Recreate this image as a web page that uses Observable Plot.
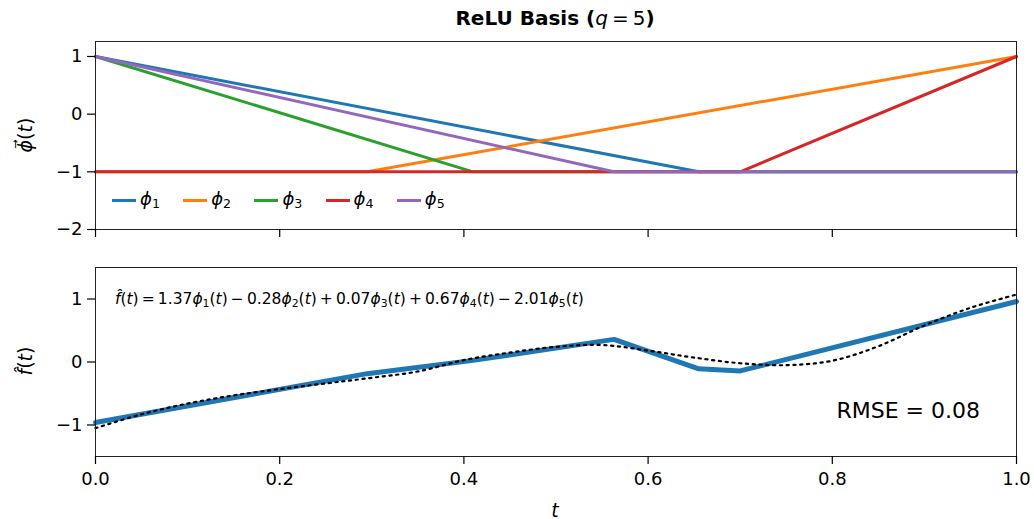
<!DOCTYPE html>
<html><head><meta charset="utf-8">
<script src="https://cdn.jsdelivr.net/npm/d3@7"></script>
<script src="https://cdn.jsdelivr.net/npm/@observablehq/plot@0.6"></script>
<style>
body{margin:0;background:#fff;font-family:"DejaVu Sans",sans-serif;}
#wrap{position:relative;width:1034px;height:519px;overflow:hidden;background:#fff}
.abs{position:absolute;white-space:nowrap;color:#000;line-height:1}
.abs svg{display:block}
i{font-style:italic}
sub{font-size:0.7em;vertical-align:-0.25em;line-height:0}
.op{margin:0 0.2em}
</style></head><body><div id="wrap"></div>
<script>
// ---- data ----
const basisNames = ["ϕ1", "ϕ2", "ϕ3", "ϕ4", "ϕ5"];
const basisColors = ["#1f77b4", "#ff7f0e", "#2ca02c", "#d62728", "#9467bd"];
const phi1T = [0, 0.655, 1];   const phi1V = [1, -1, -1];
const phi2T = [0, 0.295, 1];   const phi2V = [-1, -1, 1];
const phi3T = [0, 0.41, 1];    const phi3V = [1, -1, -1];
const phi4T = [0, 0.70, 1];    const phi4V = [-1, -1, 1];
const phi5T = [0, 0.563, 1];   const phi5V = [1, -1, -1];
const fitT = [0, 0.295, 0.41, 0.563, 0.655, 0.70, 1];
const fitV = [-0.96, -0.185, 0.026, 0.359, -0.108, -0.142, 0.96];
const trueT = [0, 0.05, 0.1, 0.15, 0.2, 0.25, 0.3, 0.35, 0.4, 0.45, 0.5, 0.55, 0.6, 0.65, 0.7, 0.75, 0.8, 0.85, 0.9, 0.95, 1];
const trueV = [-1.05, -0.83, -0.66, -0.53, -0.43, -0.34, -0.25, -0.15, 0.03, 0.15, 0.24, 0.27, 0.18, 0.07, -0.02, -0.05, 0.02, 0.25, 0.58, 0.86, 1.07];
const coefs = [1.37, -0.28, 0.07, 0.67, -2.01];
const rmse = 0.08;
const xTicks = [0, 0.2, 0.4, 0.6, 0.8, 1.0];
const yTicksTop = [-2, -1, 0, 1];
const yTicksBottom = [-1, 0, 1];

// ---- build tables ----
const basisT = [phi1T, phi2T, phi3T, phi4T, phi5T];
const basisV = [phi1V, phi2V, phi3V, phi4V, phi5V];
const basisRows = basisNames.flatMap((n, i) => basisT[i].map((t, j) => ({name: n, t, v: basisV[i][j]})));
const fitRows = fitT.map((t, i) => ({t, v: fitV[i]}));
const trueRows = trueT.map((t, i) => ({t, v: trueV[i]}));

const minus = d => (d < 0 ? "\u2212" + Math.abs(d) : String(d));
const style = {fontSize: "18px", fontFamily: "DejaVu Sans", color: "#000", background: "transparent", overflow: "visible"};

const wrap = document.getElementById("wrap");
function place(el, left, topPx) {
  const d = document.createElement("div");
  d.className = "abs"; d.style.left = left + "px"; d.style.top = topPx + "px";
  if (typeof el === "string") d.innerHTML = el; else d.appendChild(el);
  wrap.appendChild(d); return d;
}

const topPlot = Plot.plot({
  width: 1034, height: 240, marginTop: 41, marginBottom: 11, marginLeft: 95, marginRight: 18,
  style,
  x: {domain: [0, 1]},
  y: {domain: [-2, 1.26]},
  color: {domain: basisNames, range: basisColors},
  marks: [
    Plot.line(basisRows, {x: "t", y: "v", z: "name", stroke: "name", strokeWidth: 3}),
    Plot.frame({stroke: "#222", strokeWidth: 1}),
    Plot.axisX({ticks: xTicks, tickFormat: () => "", tickSize: 8, label: null, strokeWidth: 1.2}),
    Plot.axisY({ticks: yTicksTop, tickFormat: minus, tickSize: 8, tickPadding: 5, label: null, strokeWidth: 1.2})
  ]
});
place(topPlot, 0, 0);

const bottomPlot = Plot.plot({
  width: 1034, height: 279, marginTop: 27, marginBottom: 63, marginLeft: 95, marginRight: 18,
  style,
  x: {domain: [0, 1]},
  y: {domain: [-1.5, 1.5]},
  marks: [
    Plot.line(fitRows, {x: "t", y: "v", stroke: "#1f77b4", strokeWidth: 5}),
    Plot.line(trueRows, {x: "t", y: "v", stroke: "#000", strokeWidth: 2.2, strokeDasharray: "2.2,4.6", curve: "catmull-rom"}),
    Plot.frame({stroke: "#222", strokeWidth: 1}),
    Plot.axisX({ticks: xTicks, tickFormat: d => d.toFixed(1), tickSize: 8, tickPadding: 8, label: null, strokeWidth: 1.2}),
    Plot.axisY({ticks: yTicksBottom, tickFormat: minus, tickSize: 8, tickPadding: 5, label: null, strokeWidth: 1.2})
  ]
});
place(bottomPlot, 0, 240);

// title
const title = place('<b>ReLU Basis (</b><i>q</i><span class="op">=</span>5<b>)</b>', 0, 8);
title.style.fontSize = "20px"; title.style.width = "1034px"; title.style.textAlign = "center";
title.style.paddingLeft = "76px"; title.style.boxSizing = "border-box";

// y labels
const yl1 = place('<i>ϕ⃗</i>(<i>t</i>)', 25, 135);
yl1.style.fontSize = "19px";
yl1.style.transform = "translate(-50%,-50%) rotate(-90deg)";
const yl2 = place('<i>f̂</i>(<i>t</i>)', 25, 361);
yl2.style.fontSize = "19px";
yl2.style.transform = "translate(-50%,-50%) rotate(-90deg)";

// x label
const xl = place('<i>t</i>', 555, 510);
xl.style.fontSize = "19px";
xl.style.transform = "translate(-50%,-50%)";

// legend
basisNames.forEach((n, i) => {
  const html = `<span style="display:inline-block;width:24px;height:3px;background:${basisColors[i]};vertical-align:middle;margin-right:4px"></span><i>ϕ</i><sub>${i + 1}</sub>`;
  const e = place(html, 112 + i * 71.2, 190);
  e.style.fontSize = "18px";
});

// equation
const sign = v => (v < 0 ? '<span class="op">\u2212</span>' : '<span class="op">+</span>');
let eq = '<i>f̂</i>(<i>t</i>)<span class="op">=</span>';
coefs.forEach((c, i) => {
  eq += (i === 0 ? (c < 0 ? "\u2212" : "") : sign(c)) + Math.abs(c).toFixed(2) + `<i>ϕ</i><sub>${i + 1}</sub>(<i>t</i>)`;
});
const eqEl = place(eq, 115, 292);
eqEl.style.fontSize = "15.5px";

// RMSE
const rm = place("RMSE = " + rmse.toFixed(2), 0, 400);
rm.style.fontSize = "22px"; rm.style.right = "54px"; rm.style.left = "auto";
</script></body></html>
